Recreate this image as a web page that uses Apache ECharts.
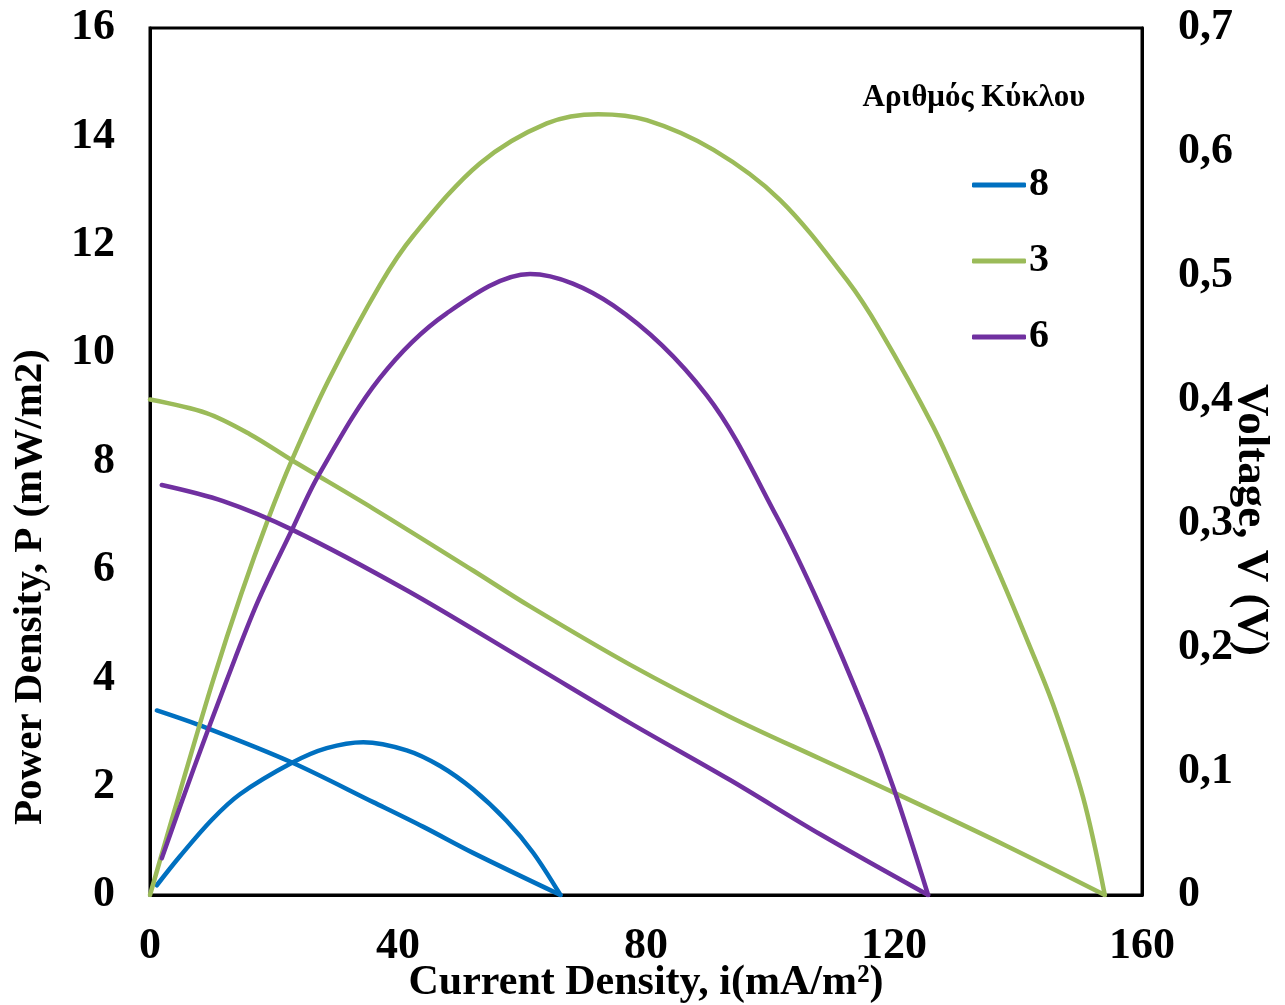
<!DOCTYPE html>
<html>
<head>
<meta charset="utf-8">
<script src="https://cdn.jsdelivr.net/npm/echarts@6/dist/echarts.min.js"></script>
<style>html,body{margin:0;padding:0;background:#fff;}#c{width:1285px;height:1005px;}</style>
</head>
<body>
<div id="c"></div>
<script>
// ---- Data ----
const cycleNames = ['8', '3', '6'];
const cycleColors = ['#0070C0', '#9BBB59', '#7030A0'];

// Cycle 8 (blue)
const c8_P_i = [1.1, 4.8, 9.9, 14.5, 22.9, 28.5, 34.4, 41.4, 46.8, 52.1, 57.5, 61.8, 66.2];
const c8_P   = [0.18, 0.71, 1.38, 1.86, 2.44, 2.71, 2.82, 2.67, 2.38, 1.95, 1.37, 0.78, 0];
const c8_V_i = [1.1, 9.1, 22.9, 36.0, 44.1, 52.1, 66.2];
const c8_V   = [0.149, 0.135, 0.107, 0.075, 0.055, 0.034, 0];

// Cycle 3 (green)
const c3_P_i = [0, 5.2, 10.2, 14.7, 19.1, 22.9, 28.8, 37.1, 42.5, 53.2, 64.0, 72.3, 80.1, 90.9, 101.6, 112.4, 117.7, 126.3, 131.7, 137.1, 141.5, 145.7, 150.5, 154];
const c3_P   = [0, 2.05, 3.97, 5.55, 6.95, 8.03, 9.5, 11.26, 12.17, 13.5, 14.24, 14.41, 14.30, 13.75, 12.83, 11.35, 10.43, 8.65, 7.3, 5.90, 4.7, 3.5, 1.8, 0];
const c3_V_i = [0, 9.1, 16.1, 22.9, 36.0, 52.1, 61.3, 77.4, 93.5, 108.1, 122, 138, 154];
const c3_V   = [0.400, 0.389, 0.372, 0.351, 0.312, 0.262, 0.233, 0.186, 0.144, 0.110, 0.078, 0.040, 0];

// Cycle 6 (purple)
const c6_P_i = [1.9, 7.1, 12.4, 17.3, 22.9, 27.2, 37.0, 47.8, 61.3, 74.7, 89.8, 101.1, 108.1, 115.6, 120, 125.5];
const c6_P   = [0.68, 2.35, 3.97, 5.39, 6.74, 7.75, 9.53, 10.73, 11.46, 10.88, 9.22, 6.98, 5.32, 3.3, 1.95, 0];
const c6_V_i = [1.9, 11.8, 22.9, 41.4, 61.3, 77.4, 93.5, 108.1, 125.5];
const c6_V   = [0.331, 0.318, 0.295, 0.246, 0.187, 0.139, 0.093, 0.049, 0];

// Axis ticks
const xTicks = { min: 0, max: 160, interval: 40 };
const pTicks = { min: 0, max: 16, interval: 2 };
const vTicks = { min: 0, max: 0.7, interval: 0.1 };

// ---- Build ----
const zip = (a, b) => a.map((v, k) => [v, b[k]]);
const FONT = '"Liberation Serif", "Times New Roman", serif';

const groups = [
  [c8_P_i, c8_P, c8_V_i, c8_V],
  [c3_P_i, c3_P, c3_V_i, c3_V],
  [c6_P_i, c6_P, c6_V_i, c6_V]
];
const series = [];
groups.forEach((g, k) => {
  const common = {
    type: 'line', name: cycleNames[k], smooth: 0.33, showSymbol: false, symbol: 'none',
    lineStyle: { color: cycleColors[k], width: 4.5, cap: 'round', join: 'round' },
    itemStyle: { color: cycleColors[k] }
  };
  series.push(Object.assign({}, common, { yAxisIndex: 0, data: zip(g[0], g[1]) }));
  series.push(Object.assign({}, common, { yAxisIndex: 1, data: zip(g[2], g[3]) }));
});

const axisLabelStyle = { fontFamily: FONT, fontWeight: 'bold', fontSize: 44, color: '#000' };

const chart = echarts.init(document.getElementById('c'), null, { renderer: 'canvas' });
chart.setOption({
  animation: false,
  backgroundColor: '#fff',
  grid: { left: 150, right: 143, top: 28, bottom: 110, show: true, borderColor: '#000', borderWidth: 3, containLabel: false },
  xAxis: {
    type: 'value', min: xTicks.min, max: xTicks.max, interval: xTicks.interval,
    axisLine: { show: true, lineStyle: { color: '#000', width: 3 } },
    axisTick: { show: false }, splitLine: { show: false },
    axisLabel: Object.assign({ margin: 30 }, axisLabelStyle)
  },
  yAxis: [
    {
      type: 'value', min: pTicks.min, max: pTicks.max, interval: pTicks.interval,
      axisLine: { show: true, lineStyle: { color: '#000', width: 3 } },
      axisTick: { show: false }, splitLine: { show: false },
      axisLabel: Object.assign({ margin: 35 }, axisLabelStyle)
    },
    {
      type: 'value', min: vTicks.min, max: vTicks.max, interval: vTicks.interval, position: 'right',
      axisLine: { show: true, lineStyle: { color: '#000', width: 3 } },
      axisTick: { show: false }, splitLine: { show: false },
      axisLabel: Object.assign({ margin: 36, formatter: v => (Math.abs(v) < 1e-9 ? '0' : v.toFixed(1).replace('.', ',')) }, axisLabelStyle)
    }
  ],
  legend: {
    data: cycleNames, orient: 'vertical', left: 972, top: 165, padding: 0,
    icon: 'roundRect', itemWidth: 54, itemHeight: 5, itemGap: 36,
    textStyle: { fontFamily: FONT, fontWeight: 'bold', fontSize: 40, lineHeight: 40, color: '#000', padding: [0, 0, 0, -2] }
  },
  graphic: [
    { type: 'text', x: 974, y: 98, style: { text: 'Αριθμός Κύκλου', font: 'bold 31px ' + FONT, fill: '#000', textAlign: 'center', textVerticalAlign: 'middle' } },
    { type: 'text', x: 646, y: 983, style: { text: 'Current Density, i(mA/m²)', font: 'bold 42px ' + FONT, fill: '#000', textAlign: 'center', textVerticalAlign: 'middle' } },
    { type: 'text', x: 30, y: 587, rotation: Math.PI / 2, style: { text: 'Power Density, P (mW/m2)', font: 'bold 41px ' + FONT, fill: '#000', textAlign: 'center', textVerticalAlign: 'middle' } },
    { type: 'text', x: 1251, y: 520, rotation: -Math.PI / 2, style: { text: 'Voltage, V (V)', font: 'bold 45px ' + FONT, fill: '#000', textAlign: 'center', textVerticalAlign: 'middle' } }
  ],
  series: series
});
</script>
</body>
</html>
